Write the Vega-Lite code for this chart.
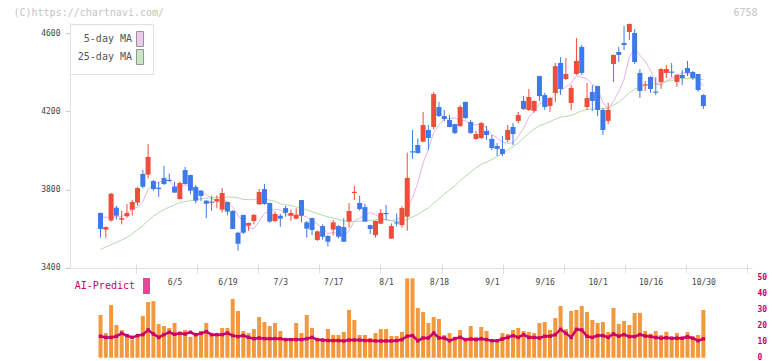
{
  "$schema": "https://vega.github.io/schema/vega-lite/v6.json",
  "width": 682,
  "height": 336,
  "autosize": {"type": "none"},
  "padding": {"left": 70, "top": 22, "right": 20, "bottom": 3},
  "background": "#ffffff",
  "config": {
    "view": {"stroke": null},
    "font": "DejaVu Sans Mono",
    "axis": {"labelFont": "DejaVu Sans Mono", "titleFont": "DejaVu Sans Mono", "grid": false},
    "legend": {"labelFont": "DejaVu Sans Mono"}
  },
  "datasets": {
    "days": [
      {"i":0,"date":"2025-05-16","open":3681,"high":3683,"low":3555,"close":3599,"ma5":3659,"ma25":3495,"vol":26.7,"ai":13.4},
      {"i":1,"date":"2025-05-19","open":3596,"high":3612,"low":3555,"close":3609,"ma5":3659,"ma25":3507,"vol":15.4,"ai":12.7},
      {"i":2,"date":"2025-05-20","open":3643,"high":3783,"low":3636,"close":3779,"ma5":3660,"ma25":3519,"vol":32.9,"ai":12.7},
      {"i":3,"date":"2025-05-21","open":3708,"high":3718,"low":3647,"close":3667,"ma5":3662,"ma25":3531,"vol":20.4,"ai":13.4},
      {"i":4,"date":"2025-05-22","open":3647,"high":3691,"low":3623,"close":3655,"ma5":3662,"ma25":3543,"vol":17.3,"ai":15.2},
      {"i":5,"date":"2025-05-23","open":3664,"high":3727,"low":3657,"close":3681,"ma5":3678,"ma25":3555,"vol":14.8,"ai":13.8},
      {"i":6,"date":"2025-05-26","open":3698,"high":3747,"low":3667,"close":3737,"ma5":3704,"ma25":3575,"vol":11.3,"ai":12.7},
      {"i":7,"date":"2025-05-27","open":3734,"high":3815,"low":3718,"close":3808,"ma5":3710,"ma25":3595,"vol":14.2,"ai":13.8},
      {"i":8,"date":"2025-05-28","open":3880,"high":3902,"low":3807,"close":3815,"ma5":3739,"ma25":3617,"vol":26.1,"ai":14.4},
      {"i":9,"date":"2025-05-29","open":3877,"high":4033,"low":3858,"close":3967,"ma5":3802,"ma25":3642,"vol":34.8,"ai":17.3},
      {"i":10,"date":"2025-05-30","open":3844,"high":3850,"low":3795,"close":3803,"ma5":3826,"ma25":3665,"vol":35.4,"ai":14.8},
      {"i":11,"date":"2025-06-02","open":3810,"high":3839,"low":3762,"close":3803,"ma5":3839,"ma25":3683,"vol":21.1,"ai":12.7},
      {"i":12,"date":"2025-06-03","open":3860,"high":3921,"low":3824,"close":3829,"ma5":3843,"ma25":3698,"vol":19.8,"ai":14.4},
      {"i":13,"date":"2025-06-04","open":3850,"high":3882,"low":3841,"close":3844,"ma5":3849,"ma25":3711,"vol":18.6,"ai":15.9},
      {"i":14,"date":"2025-06-05","open":3815,"high":3841,"low":3783,"close":3785,"ma5":3813,"ma25":3723,"vol":21.7,"ai":14.6},
      {"i":15,"date":"2025-06-06","open":3752,"high":3841,"low":3750,"close":3834,"ma5":3819,"ma25":3734,"vol":14.2,"ai":15.2},
      {"i":16,"date":"2025-06-09","open":3900,"high":3916,"low":3827,"close":3829,"ma5":3825,"ma25":3739,"vol":17.3,"ai":14.8},
      {"i":17,"date":"2025-06-10","open":3875,"high":3877,"low":3776,"close":3795,"ma5":3818,"ma25":3744,"vol":13.0,"ai":15.9},
      {"i":18,"date":"2025-06-11","open":3814,"high":3824,"low":3730,"close":3744,"ma5":3797,"ma25":3748,"vol":15.4,"ai":14.4},
      {"i":19,"date":"2025-06-12","open":3795,"high":3797,"low":3742,"close":3768,"ma5":3794,"ma25":3753,"vol":16.7,"ai":15.2},
      {"i":20,"date":"2025-06-13","open":3744,"high":3746,"low":3654,"close":3728,"ma5":3773,"ma25":3757,"vol":21.7,"ai":16.3},
      {"i":21,"date":"2025-06-16","open":3739,"high":3769,"low":3693,"close":3733,"ma5":3754,"ma25":3759,"vol":14.2,"ai":14.4},
      {"i":22,"date":"2025-06-17","open":3739,"high":3771,"low":3705,"close":3752,"ma5":3745,"ma25":3760,"vol":14.2,"ai":14.4},
      {"i":23,"date":"2025-06-18","open":3698,"high":3808,"low":3684,"close":3783,"ma5":3753,"ma25":3761,"vol":18.6,"ai":14.4},
      {"i":24,"date":"2025-06-19","open":3737,"high":3739,"low":3669,"close":3688,"ma5":3737,"ma25":3762,"vol":18.6,"ai":15.4},
      {"i":25,"date":"2025-06-20","open":3691,"high":3696,"low":3599,"close":3599,"ma5":3711,"ma25":3762,"vol":36.7,"ai":13.8},
      {"i":26,"date":"2025-06-23","open":3580,"high":3585,"low":3488,"close":3524,"ma5":3669,"ma25":3758,"vol":29.2,"ai":13.2},
      {"i":27,"date":"2025-06-24","open":3671,"high":3671,"low":3575,"close":3580,"ma5":3635,"ma25":3750,"vol":16.7,"ai":13.8},
      {"i":28,"date":"2025-06-25","open":3616,"high":3632,"low":3589,"close":3630,"ma5":3604,"ma25":3749,"vol":15.4,"ai":12.7},
      {"i":29,"date":"2025-06-26","open":3640,"high":3676,"low":3623,"close":3671,"ma5":3601,"ma25":3749,"vol":17.9,"ai":11.9},
      {"i":30,"date":"2025-06-27","open":3725,"high":3803,"low":3722,"close":3788,"ma5":3639,"ma25":3754,"vol":25.4,"ai":12.3},
      {"i":31,"date":"2025-06-30","open":3803,"high":3829,"low":3722,"close":3727,"ma5":3679,"ma25":3753,"vol":22.3,"ai":11.9},
      {"i":32,"date":"2025-07-01","open":3732,"high":3734,"low":3631,"close":3637,"ma5":3691,"ma25":3746,"vol":19.8,"ai":11.9},
      {"i":33,"date":"2025-07-02","open":3640,"high":3689,"low":3633,"close":3676,"ma5":3700,"ma25":3741,"vol":21.7,"ai":11.9},
      {"i":34,"date":"2025-07-03","open":3667,"high":3676,"low":3611,"close":3652,"ma5":3696,"ma25":3728,"vol":16.7,"ai":11.9},
      {"i":35,"date":"2025-07-04","open":3706,"high":3718,"low":3662,"close":3682,"ma5":3675,"ma25":3723,"vol":11.7,"ai":11.3},
      {"i":36,"date":"2025-07-07","open":3667,"high":3698,"low":3640,"close":3681,"ma5":3666,"ma25":3719,"vol":11.7,"ai":11.3},
      {"i":37,"date":"2025-07-08","open":3652,"high":3705,"low":3650,"close":3671,"ma5":3672,"ma25":3712,"vol":21.7,"ai":11.3},
      {"i":38,"date":"2025-07-09","open":3747,"high":3747,"low":3633,"close":3667,"ma5":3671,"ma25":3705,"vol":15.4,"ai":11.3},
      {"i":39,"date":"2025-07-10","open":3633,"high":3640,"low":3555,"close":3601,"ma5":3660,"ma25":3698,"vol":26.7,"ai":11.9},
      {"i":40,"date":"2025-07-11","open":3655,"high":3657,"low":3568,"close":3594,"ma5":3643,"ma25":3688,"vol":18.6,"ai":12.7},
      {"i":41,"date":"2025-07-14","open":3543,"high":3591,"low":3538,"close":3587,"ma5":3624,"ma25":3678,"vol":11.7,"ai":11.3},
      {"i":42,"date":"2025-07-15","open":3614,"high":3623,"low":3545,"close":3560,"ma5":3602,"ma25":3669,"vol":11.7,"ai":11.0},
      {"i":43,"date":"2025-07-16","open":3563,"high":3568,"low":3509,"close":3534,"ma5":3575,"ma25":3661,"vol":17.9,"ai":10.7},
      {"i":44,"date":"2025-07-17","open":3596,"high":3645,"low":3568,"close":3633,"ma5":3582,"ma25":3655,"vol":14.2,"ai":10.7},
      {"i":45,"date":"2025-07-18","open":3614,"high":3619,"low":3551,"close":3560,"ma5":3575,"ma25":3649,"vol":14.2,"ai":10.7},
      {"i":46,"date":"2025-07-22","open":3609,"high":3655,"low":3534,"close":3534,"ma5":3564,"ma25":3640,"vol":16.1,"ai":10.5},
      {"i":47,"date":"2025-07-23","open":3637,"high":3732,"low":3606,"close":3691,"ma5":3590,"ma25":3638,"vol":29.8,"ai":11.0},
      {"i":48,"date":"2025-07-24","open":3783,"high":3819,"low":3747,"close":3789,"ma5":3641,"ma25":3638,"vol":23.6,"ai":11.0},
      {"i":49,"date":"2025-07-25","open":3732,"high":3768,"low":3693,"close":3701,"ma5":3655,"ma25":3639,"vol":14.2,"ai":11.0},
      {"i":50,"date":"2025-07-28","open":3711,"high":3727,"low":3635,"close":3637,"ma5":3670,"ma25":3640,"vol":14.2,"ai":10.7},
      {"i":51,"date":"2025-07-29","open":3619,"high":3621,"low":3574,"close":3599,"ma5":3683,"ma25":3643,"vol":12.3,"ai":10.7},
      {"i":52,"date":"2025-07-30","open":3568,"high":3642,"low":3555,"close":3640,"ma5":3673,"ma25":3646,"vol":15.4,"ai":10.5},
      {"i":53,"date":"2025-07-31","open":3626,"high":3701,"low":3624,"close":3681,"ma5":3652,"ma25":3648,"vol":17.9,"ai":10.5},
      {"i":54,"date":"2025-08-01","open":3681,"high":3722,"low":3642,"close":3675,"ma5":3647,"ma25":3648,"vol":17.9,"ai":10.5},
      {"i":55,"date":"2025-08-04","open":3550,"high":3628,"low":3548,"close":3614,"ma5":3642,"ma25":3641,"vol":13.6,"ai":10.5},
      {"i":56,"date":"2025-08-05","open":3633,"high":3679,"low":3612,"close":3627,"ma5":3648,"ma25":3637,"vol":13.6,"ai":10.7},
      {"i":57,"date":"2025-08-06","open":3619,"high":3716,"low":3606,"close":3706,"ma5":3661,"ma25":3640,"vol":16.1,"ai":11.3},
      {"i":58,"date":"2025-08-07","open":3662,"high":3989,"low":3590,"close":3860,"ma5":3697,"ma25":3647,"vol":49.6,"ai":13.4},
      {"i":59,"date":"2025-08-08","open":3996,"high":4105,"low":3957,"close":3990,"ma5":3760,"ma25":3661,"vol":49.6,"ai":13.8},
      {"i":60,"date":"2025-08-12","open":4028,"high":4062,"low":3984,"close":3987,"ma5":3835,"ma25":3673,"vol":31.1,"ai":10.6},
      {"i":61,"date":"2025-08-13","open":4045,"high":4197,"low":4043,"close":4130,"ma5":3935,"ma25":3691,"vol":28.6,"ai":12.3},
      {"i":62,"date":"2025-08-14","open":4105,"high":4130,"low":4003,"close":4064,"ma5":4007,"ma25":3707,"vol":21.7,"ai":12.3},
      {"i":63,"date":"2025-08-15","open":4120,"high":4299,"low":4108,"close":4288,"ma5":4092,"ma25":3731,"vol":25.4,"ai":15.4},
      {"i":64,"date":"2025-08-18","open":4222,"high":4248,"low":4171,"close":4176,"ma5":4129,"ma25":3754,"vol":24.2,"ai":12.3},
      {"i":65,"date":"2025-08-19","open":4176,"high":4207,"low":4149,"close":4161,"ma5":4164,"ma25":3777,"vol":14.2,"ai":12.3},
      {"i":66,"date":"2025-08-20","open":4156,"high":4181,"low":4118,"close":4120,"ma5":4162,"ma25":3798,"vol":15.4,"ai":10.6},
      {"i":67,"date":"2025-08-21","open":4135,"high":4137,"low":4084,"close":4089,"ma5":4167,"ma25":3820,"vol":13.0,"ai":11.9},
      {"i":68,"date":"2025-08-22","open":4125,"high":4232,"low":4120,"close":4222,"ma5":4154,"ma25":3847,"vol":17.3,"ai":12.7},
      {"i":69,"date":"2025-08-25","open":4248,"high":4250,"low":4161,"close":4166,"ma5":4152,"ma25":3868,"vol":12.3,"ai":11.3},
      {"i":70,"date":"2025-08-26","open":4146,"high":4156,"low":4086,"close":4089,"ma5":4137,"ma25":3890,"vol":19.8,"ai":11.7},
      {"i":71,"date":"2025-08-27","open":4059,"high":4100,"low":4054,"close":4084,"ma5":4130,"ma25":3912,"vol":13.0,"ai":11.3},
      {"i":72,"date":"2025-08-28","open":4064,"high":4145,"low":4059,"close":4140,"ma5":4140,"ma25":3930,"vol":19.2,"ai":11.9},
      {"i":73,"date":"2025-08-29","open":4100,"high":4125,"low":4054,"close":4079,"ma5":4112,"ma25":3941,"vol":16.7,"ai":11.3},
      {"i":74,"date":"2025-09-01","open":4059,"high":4079,"low":4003,"close":4013,"ma5":4081,"ma25":3954,"vol":11.7,"ai":10.6},
      {"i":75,"date":"2025-09-02","open":4023,"high":4038,"low":3972,"close":4008,"ma5":4065,"ma25":3969,"vol":11.7,"ai":10.6},
      {"i":76,"date":"2025-09-03","open":4008,"high":4074,"low":3972,"close":3982,"ma5":4044,"ma25":3984,"vol":15.4,"ai":11.7},
      {"i":77,"date":"2025-09-04","open":4054,"high":4130,"low":4043,"close":4105,"ma5":4037,"ma25":4003,"vol":14.8,"ai":12.7},
      {"i":78,"date":"2025-09-05","open":4120,"high":4140,"low":4028,"close":4084,"ma5":4038,"ma25":4019,"vol":17.3,"ai":13.8},
      {"i":79,"date":"2025-09-08","open":4151,"high":4197,"low":4140,"close":4181,"ma5":4072,"ma25":4039,"vol":18.6,"ai":12.7},
      {"i":80,"date":"2025-09-09","open":4253,"high":4278,"low":4207,"close":4212,"ma5":4113,"ma25":4063,"vol":16.7,"ai":14.4},
      {"i":81,"date":"2025-09-10","open":4207,"high":4314,"low":4202,"close":4273,"ma5":4171,"ma25":4088,"vol":16.1,"ai":12.7},
      {"i":82,"date":"2025-09-11","open":4202,"high":4255,"low":4193,"close":4253,"ma5":4201,"ma25":4110,"vol":15.4,"ai":12.7},
      {"i":83,"date":"2025-09-12","open":4380,"high":4382,"low":4253,"close":4278,"ma5":4239,"ma25":4127,"vol":21.7,"ai":12.3},
      {"i":84,"date":"2025-09-16","open":4283,"high":4294,"low":4207,"close":4222,"ma5":4248,"ma25":4136,"vol":22.3,"ai":13.4},
      {"i":85,"date":"2025-09-17","open":4227,"high":4273,"low":4197,"close":4268,"ma5":4259,"ma25":4148,"vol":17.3,"ai":13.4},
      {"i":86,"date":"2025-09-18","open":4294,"high":4447,"low":4248,"close":4431,"ma5":4290,"ma25":4160,"vol":24.8,"ai":14.4},
      {"i":87,"date":"2025-09-19","open":4447,"high":4477,"low":4283,"close":4314,"ma5":4303,"ma25":4170,"vol":32.3,"ai":17.7},
      {"i":88,"date":"2025-09-22","open":4365,"high":4472,"low":4360,"close":4391,"ma5":4325,"ma25":4174,"vol":17.9,"ai":15.2},
      {"i":89,"date":"2025-09-24","open":4243,"high":4334,"low":4207,"close":4319,"ma5":4345,"ma25":4179,"vol":29.2,"ai":12.7},
      {"i":90,"date":"2025-09-25","open":4391,"high":4574,"low":4386,"close":4457,"ma5":4382,"ma25":4191,"vol":29.8,"ai":17.7},
      {"i":91,"date":"2025-09-26","open":4529,"high":4539,"low":4386,"close":4396,"ma5":4375,"ma25":4202,"vol":32.3,"ai":17.3},
      {"i":92,"date":"2025-09-29","open":4222,"high":4345,"low":4207,"close":4268,"ma5":4366,"ma25":4209,"vol":28.6,"ai":13.4},
      {"i":93,"date":"2025-09-30","open":4299,"high":4334,"low":4202,"close":4253,"ma5":4339,"ma25":4211,"vol":23.6,"ai":12.7},
      {"i":94,"date":"2025-10-01","open":4329,"high":4331,"low":4176,"close":4207,"ma5":4316,"ma25":4212,"vol":21.7,"ai":13.8},
      {"i":95,"date":"2025-10-02","open":4207,"high":4217,"low":4079,"close":4105,"ma5":4246,"ma25":4213,"vol":22.3,"ai":13.8},
      {"i":96,"date":"2025-10-03","open":4151,"high":4243,"low":4135,"close":4207,"ma5":4208,"ma25":4218,"vol":16.1,"ai":12.7},
      {"i":97,"date":"2025-10-06","open":4442,"high":4490,"low":4350,"close":4488,"ma5":4252,"ma25":4232,"vol":31.1,"ai":14.8},
      {"i":98,"date":"2025-10-07","open":4503,"high":4529,"low":4452,"close":4488,"ma5":4299,"ma25":4248,"vol":21.1,"ai":13.4},
      {"i":99,"date":"2025-10-08","open":4549,"high":4636,"low":4513,"close":4539,"ma5":4365,"ma25":4269,"vol":22.9,"ai":14.4},
      {"i":100,"date":"2025-10-09","open":4605,"high":4648,"low":4564,"close":4646,"ma5":4474,"ma25":4295,"vol":20.4,"ai":13.2},
      {"i":101,"date":"2025-10-10","open":4600,"high":4620,"low":4442,"close":4452,"ma5":4523,"ma25":4314,"vol":27.9,"ai":13.2},
      {"i":102,"date":"2025-10-14","open":4396,"high":4416,"low":4268,"close":4304,"ma5":4486,"ma25":4321,"vol":28.0,"ai":14.4},
      {"i":103,"date":"2025-10-15","open":4332,"high":4355,"low":4304,"close":4338,"ma5":4455,"ma25":4332,"vol":16.7,"ai":13.6},
      {"i":104,"date":"2025-10-16","open":4375,"high":4380,"low":4294,"close":4314,"ma5":4410,"ma25":4337,"vol":15.0,"ai":13.3},
      {"i":105,"date":"2025-10-17","open":4301,"high":4375,"low":4283,"close":4295,"ma5":4341,"ma25":4340,"vol":16.7,"ai":12.6},
      {"i":106,"date":"2025-10-20","open":4350,"high":4421,"low":4314,"close":4416,"ma5":4333,"ma25":4346,"vol":14.2,"ai":12.2},
      {"i":107,"date":"2025-10-21","open":4396,"high":4437,"low":4370,"close":4416,"ma5":4356,"ma25":4353,"vol":16.2,"ai":12.5},
      {"i":108,"date":"2025-10-22","open":4403,"high":4447,"low":4375,"close":4397,"ma5":4368,"ma25":4357,"vol":11.8,"ai":12.2},
      {"i":109,"date":"2025-10-23","open":4350,"high":4391,"low":4324,"close":4386,"ma5":4383,"ma25":4364,"vol":15.4,"ai":12.2},
      {"i":110,"date":"2025-10-24","open":4386,"high":4411,"low":4334,"close":4370,"ma5":4397,"ma25":4368,"vol":11.8,"ai":12.2},
      {"i":111,"date":"2025-10-27","open":4421,"high":4457,"low":4380,"close":4396,"ma5":4393,"ma25":4367,"vol":16.0,"ai":13.0},
      {"i":112,"date":"2025-10-28","open":4401,"high":4406,"low":4360,"close":4370,"ma5":4384,"ma25":4369,"vol":13.0,"ai":12.2},
      {"i":113,"date":"2025-10-29","open":4391,"high":4391,"low":4299,"close":4309,"ma5":4360,"ma25":4366,"vol":14.2,"ai":10.6},
      {"i":114,"date":"2025-10-30","open":4283,"high":4288,"low":4212,"close":4227,"ma5":4328,"ma25":4362,"vol":29.8,"ai":11.8}
    ]
  },
  "data": {"name": "days"},
  "layer": [
    {
      "layer": [
        {
          "transform": [{"filter": "datum.i < 0"}],
          "mark": {"type": "square"},
          "encoding": {
            "x": {"field": "i", "type": "quantitative",
              "scale": {"domain": [-4.826, 122.25], "nice": false, "zero": false},
              "axis": {"orient": "bottom", "offset": -94, "values": [6.726, 18.278, 29.83, 41.383, 52.935, 64.487, 76.039, 87.591, 99.143, 110.695, 122.25],
                "labels": false, "domain": false, "ticks": true, "tickSize": 9, "tickColor": "#dddddd", "tickWidth": 1, "title": null, "grid": false}},
            "y": {"field": "close", "type": "quantitative",
              "scale": {"domain": [2940.4, 4656.2], "nice": false, "zero": false},
              "axis": {"orient": "left", "values": [3400, 3800, 4200, 4600], "format": "d", "domain": true, "domainColor": "#e0e0e0", "domainWidth": 1, "domainDash": [0, 90, 260, 1000],
                "ticks": true, "tickSize": 5, "tickColor": "#cccccc", "labelPadding": 5, "labelFontSize": 8, "labelColor": "#444444", "grid": false,
                "title": "(C)https://chartnavi.com/", "titleAngle": 0, "titleAlign": "left", "titleBaseline": "middle", "titleX": -57, "titleY": -10,
                "titleColor": "#c4c4c4", "titleFontSize": 10, "titleFontWeight": "normal"}},
            "color": {"datum": "5-day MA",
              "scale": {"domain": ["5-day MA", "25-day MA"], "range": ["#e6b3e6", "#b5dba8"]},
              "legend": {"orient": "none", "legendX": 0, "legendY": 2, "direction": "vertical", "title": null, "padding": 7,
                "strokeColor": "#e0e0e0", "fillColor": "#ffffff", "symbolType": "M-0.47,-1H0.47V1H-0.47Z", "symbolSize": 225,
                "symbolStrokeColor": "#666666", "symbolStrokeWidth": 1, "symbolOffset": 55, "labelAlign": "right", "labelOffset": -16,
                "labelFontSize": 10, "labelColor": "#555555", "rowPadding": -2}}
          }
        },
        {
          "mark": {"type": "line", "color": "#e6b3e6", "strokeWidth": 1},
          "encoding": {
            "x": {"field": "i", "type": "quantitative"},
            "y": {"field": "ma5", "type": "quantitative", "scale": {"domain": [2940.4, 4656.2], "nice": false, "zero": false}}
          }
        },
        {
          "mark": {"type": "line", "color": "#b5dba8", "strokeWidth": 1},
          "encoding": {
            "x": {"field": "i", "type": "quantitative"},
            "y": {"field": "ma25", "type": "quantitative", "scale": {"domain": [2940.4, 4656.2], "nice": false, "zero": false}}
          }
        },
        {
          "mark": {"type": "rule", "strokeWidth": 1},
          "encoding": {
            "x": {"field": "i", "type": "quantitative"},
            "y": {"field": "low", "type": "quantitative", "scale": {"domain": [2940.4, 4656.2], "nice": false, "zero": false}},
            "y2": {"field": "high"},
            "color": {"condition": {"test": "datum.close >= datum.open", "value": "#ef4d3c"}, "value": "#3d79e8"}
          }
        },
        {
          "mark": {"type": "bar", "width": 5},
          "encoding": {
            "x": {"field": "i", "type": "quantitative"},
            "y": {"field": "open", "type": "quantitative", "scale": {"domain": [2940.4, 4656.2], "nice": false, "zero": false}},
            "y2": {"field": "close"},
            "color": {"condition": {"test": "datum.close >= datum.open", "value": "#ef4d3c"}, "value": "#3d79e8"}
          }
        }
      ]
    },
    {
      "layer": [
        {
          "transform": [{"filter": "datum.i < 0"}],
          "mark": {"type": "square"},
          "encoding": {
            "x": {"field": "i", "type": "quantitative",
              "axis": {"orient": "bottom", "offset": -90, "values": [14, 24, 34, 44, 54, 64, 74, 84, 94, 104, 114],
                "labelExpr": "['6/5','6/19','7/3','7/17','8/1','8/18','9/1','9/16','10/1','10/16','10/30'][round((datum.value-14)/10)]",
                "ticks": false, "domain": true, "domainColor": "#e0e0e0", "domainWidth": 1, "labelPadding": 10, "labelFontSize": 8,
                "labelColor": "#444444", "title": null, "labelFlush": false, "labelOverlap": false, "grid": false}},
            "y": {"field": "vol", "type": "quantitative",
              "scale": {"domain": [-0.19, 209.8], "nice": false, "zero": false},
              "axis": {"orient": "right", "values": [0, 10, 20, 30, 40, 50], "domain": false, "ticks": false, "tickSize": 0, "labelPadding": 5,
                "labelFontSize": 8, "labelFontWeight": "bold", "labelColor": "#cc0066", "grid": false,
                "title": "6758", "titleAngle": 0, "titleAlign": "center", "titleBaseline": "middle", "titleX": -7, "titleY": -10,
                "titleColor": "#c4c4c4", "titleFontSize": 10, "titleFontWeight": "normal"}},
            "color": {"datum": "AI-Predict",
              "scale": {"domain": ["AI-Predict"], "range": ["#cc0066"]},
              "legend": {"orient": "none", "legendX": 0, "legendY": 251, "direction": "vertical", "title": null, "padding": 5,
                "symbolType": "M-0.44,-1H0.44V1H-0.44Z", "symbolSize": 256, "symbolStrokeWidth": 0, "symbolOffset": 63.5,
                "labelAlign": "right", "labelOffset": -19.5, "labelFontSize": 10, "labelColor": "#cc0066"}}
          }
        },
        {
          "mark": {"type": "bar", "width": 4, "color": "#f2993f"},
          "encoding": {
            "x": {"field": "i", "type": "quantitative"},
            "y": {"field": "vol", "type": "quantitative", "scale": {"domain": [-0.19, 209.8], "nice": false, "zero": false}},
            "y2": {"datum": 0}
          }
        },
        {
          "mark": {"type": "line", "color": "#cc0066", "strokeWidth": 2.5,
            "point": {"filled": true, "shape": "square", "size": 12, "color": "#cc0066"}},
          "encoding": {
            "x": {"field": "i", "type": "quantitative"},
            "y": {"field": "ai", "type": "quantitative", "scale": {"domain": [-0.19, 209.8], "nice": false, "zero": false}}
          }
        }
      ]
    }
  ],
  "resolve": {"scale": {"y": "independent", "color": "independent"}, "axis": {"x": "independent", "y": "independent"}}
}
